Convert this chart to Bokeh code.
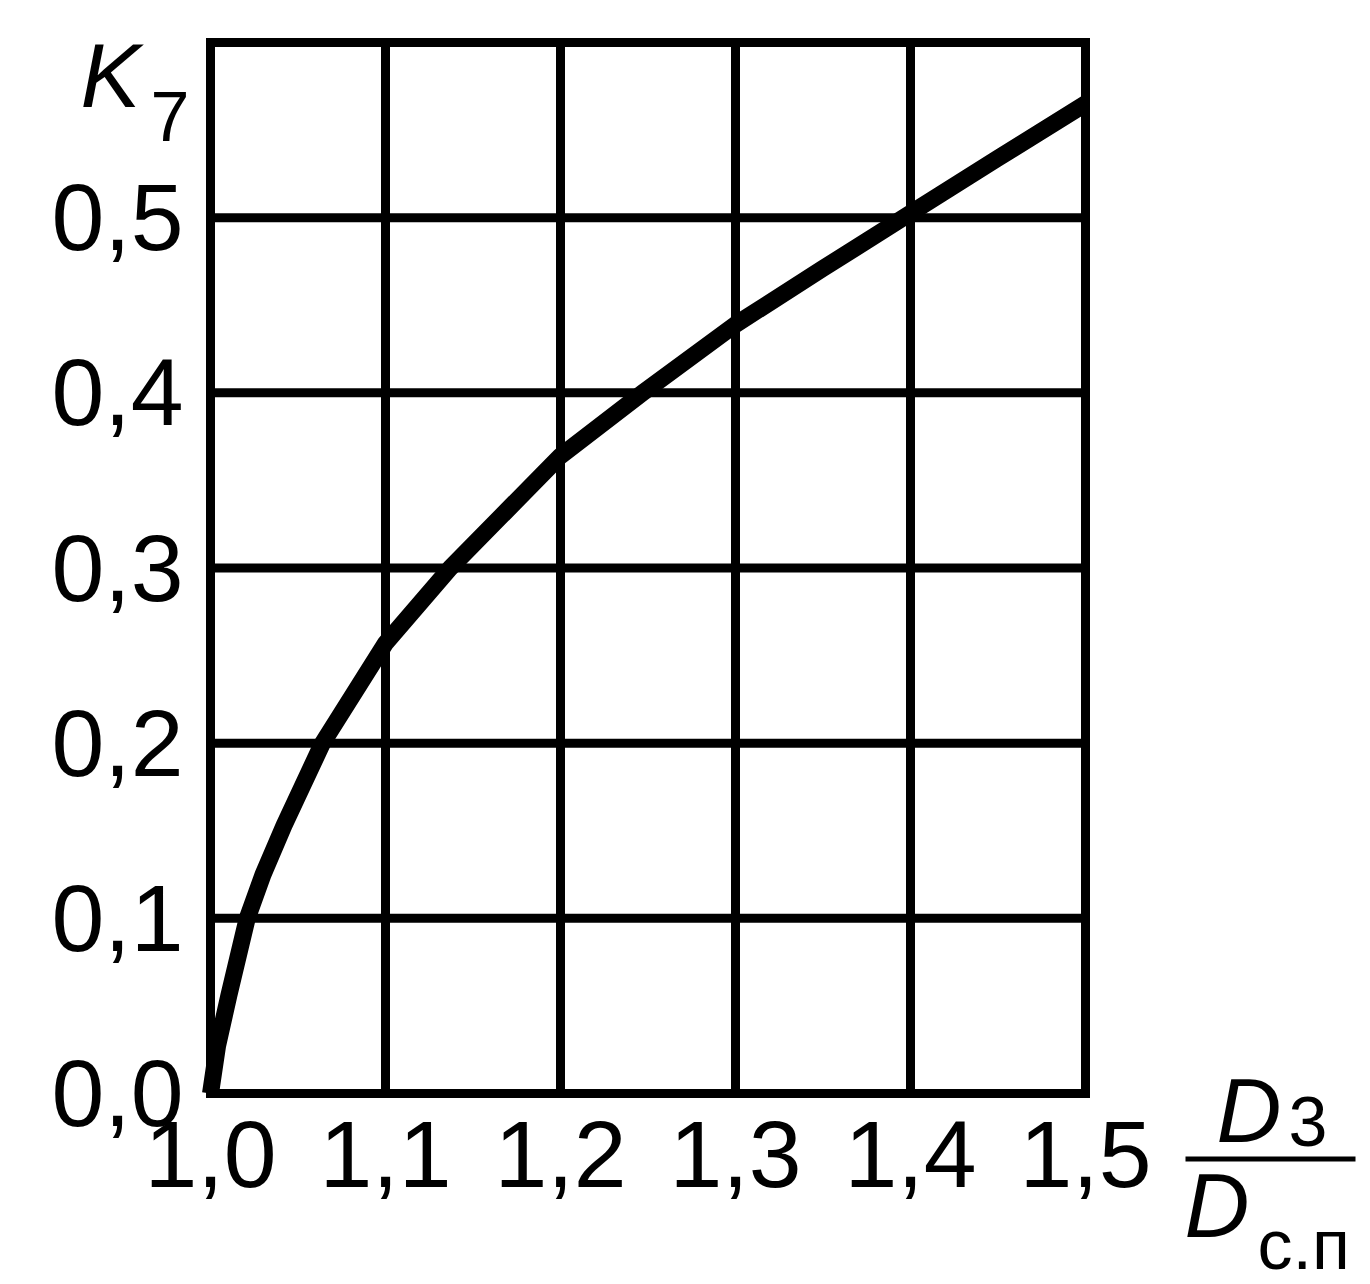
from bokeh.plotting import figure
from bokeh.models import Range1d, FixedTicker, CustomJSTickFormatter, Label, BoxAnnotation
from bokeh.embed import file_html
from bokeh.resources import INLINE

# data
ratio = [1.0, 1.004, 1.0105, 1.021, 1.03, 1.042, 1.064, 1.1, 1.137, 1.2, 1.247, 1.3, 1.35, 1.396, 1.45, 1.5]
k7 = [0.0, 0.027, 0.056, 0.1, 0.125, 0.153, 0.2, 0.257, 0.3, 0.364, 0.4, 0.439, 0.471, 0.5, 0.534, 0.565]
x_ticks = [1.0, 1.1, 1.2, 1.3, 1.4, 1.5]
y_ticks = [0.0, 0.1, 0.2, 0.3, 0.4, 0.5, 0.6]

FONT = "Liberation Sans"
W, H = 1370, 1284
PX_X, PX_Y = 1750.0, 1751.67   # pixels per data unit

# frame covers the whole canvas; the chart box sits inside it
p = figure(width=W, height=H, output_backend="svg", toolbar_location=None,
           x_range=Range1d(1.0 - 210 / PX_X, 1.0 - 210 / PX_X + W / PX_X),
           y_range=Range1d(-(H - 1093) / PX_Y, 0.6 + 42 / PX_Y),
           min_border_left=0, min_border_right=0, min_border_top=0, min_border_bottom=0)
p.outline_line_color = None
p.xgrid.visible = False
p.ygrid.visible = False

fmt = CustomJSTickFormatter(code="return tick.toFixed(1).replace('.', ',');")
for ax, ticks in ((p.xaxis[0], x_ticks), (p.yaxis[0], y_ticks[:-1])):
    ax.ticker = FixedTicker(ticks=ticks)
    ax.formatter = fmt
    ax.axis_line_color = None
    ax.major_tick_line_color = None
    ax.minor_tick_line_color = None
    ax.major_tick_out = 0
    ax.major_tick_in = 0
    ax.major_label_text_font = FONT
    ax.major_label_text_font_size = "95px"
    ax.major_label_text_color = "black"
p.xaxis[0].fixed_location = min(y_ticks)
p.yaxis[0].fixed_location = min(x_ticks)
p.xaxis[0].major_label_standoff = 28
p.yaxis[0].major_label_standoff = 27

# grid lines (including the box edges) from the tick values
ymin, ymax = min(y_ticks), max(y_ticks)
xmin, xmax = min(x_ticks), max(x_ticks)
p.segment(x0=x_ticks, y0=[ymin] * len(x_ticks), x1=x_ticks, y1=[ymax] * len(x_ticks),
          line_color="black", line_width=9, line_cap="square")
p.segment(x0=[xmin] * len(y_ticks), y0=y_ticks, x1=[xmax] * len(y_ticks), y1=y_ticks,
          line_color="black", line_width=9, line_cap="square")

p.line(ratio, k7, line_color="black", line_width=17, line_cap="butt", line_join="round")

def lab(px, py, text, size, italic=False):
    # px, py: left edge and text-box bottom, in canvas pixels from the top-left
    p.add_layout(Label(x=1.0 + (px - 210) / PX_X, y=(1093 - py) / PX_Y, text=text,
                       text_align="left", text_font=FONT,
                       text_font_style="italic" if italic else "normal",
                       text_font_size=size, text_color="black"))

# axis titles
lab(80, 125, "K", "90px", italic=True)
lab(150, 140, "7", "70px")

lab(1216, 1160, "D", "90px", italic=True)
lab(1288, 1145, "3", "70px")
p.add_layout(BoxAnnotation(left=1.0 + (1185 - 210) / PX_X, right=1.0 + (1355 - 210) / PX_X,
                           top=(1093 - 1156) / PX_Y, bottom=(1093 - 1161) / PX_Y,
                           fill_color="black", fill_alpha=1.0, line_color=None))
lab(1184, 1255, "D", "90px", italic=True)
lab(1257, 1283, "с.п", "70px")

open("out.html", "w").write(file_html(p, INLINE))
